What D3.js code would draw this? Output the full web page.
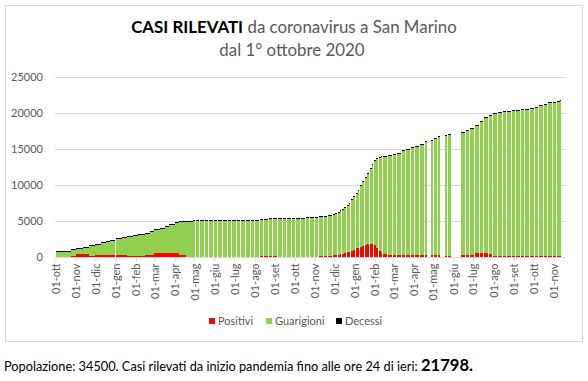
<!DOCTYPE html>
<html><head><meta charset="utf-8">
<script src="https://cdn.jsdelivr.net/npm/d3@7"></script>
<style>body{margin:0;background:#fff}svg{display:block;font-family:Lato,"Open Sans",sans-serif}</style>
</head><body><svg id="c" width="588" height="381"></svg>
<script>
// ---- DATA ----
const dataRilevazione = [
 '2020-10-01','2020-10-25','2020-11-02','2020-11-12','2020-11-21','2020-11-30','2020-12-09','2020-12-17','2020-12-24',
 '2021-01-02','2021-01-10','2021-01-18','2021-01-27','2021-02-04','2021-02-14','2021-02-22','2021-03-01','2021-03-09',
 '2021-03-17','2021-03-24','2021-04-01','2021-04-07','2021-04-19','2021-04-29',
 '2021-05-03','2021-05-10','2021-05-17','2021-05-24','2021-05-31','2021-06-07','2021-06-14','2021-06-21','2021-06-28',
 '2021-07-05','2021-07-12','2021-07-19','2021-07-26','2021-08-02','2021-08-09','2021-08-16','2021-08-23','2021-08-30',
 '2021-09-06','2021-09-13','2021-09-20','2021-09-27','2021-10-04','2021-10-11','2021-10-18','2021-10-25','2021-11-01',
 '2021-11-08','2021-11-15','2021-11-22','2021-11-29','2021-12-02','2021-12-06','2021-12-09','2021-12-13','2021-12-16',
 '2021-12-20','2021-12-23','2021-12-27','2021-12-30',
 '2022-01-03','2022-01-06','2022-01-10','2022-01-13','2022-01-17','2022-01-20','2022-01-24','2022-01-27','2022-01-31',
 '2022-02-03','2022-02-07','2022-02-10','2022-02-14','2022-02-21','2022-02-28','2022-03-07','2022-03-14','2022-03-21',
 '2022-03-28','2022-04-04','2022-04-11','2022-04-18','2022-04-28','2022-05-02','2022-05-09','2022-05-19','2022-05-23',
 '2022-06-13','2022-06-20','2022-06-27','2022-07-04','2022-07-11','2022-07-18','2022-07-25','2022-08-01','2022-08-08',
 '2022-08-15','2022-08-22','2022-08-29','2022-09-05','2022-09-12','2022-09-19','2022-09-26','2022-10-03','2022-10-10',
 '2022-10-17','2022-10-24','2022-10-31','2022-11-07','2022-11-11'
];
const casiTotali = [
 787,972,1157,1343,1528,1759,1944,2130,2315,
 2546,2731,2824,2963,3148,3333,3565,3796,4028,
 4306,4583,4815,4954,4980,5070,
 5080,5085,5088,5090,5093,5095,5095,5096,5097,
 5098,5100,5105,5110,5150,5231,5280,5320,5350,
 5370,5380,5390,5400,5410,5420,5509,5520,5530,
 5648,5700,5787,5972,6080,6250,6435,6650,6900,
 7150,7450,7950,8400,
 8843,9250,9900,10463,11000,11550,12270,12830,13400,
 13650,13843,13930,14030,14180,14306,14450,14790,14954,
 15200,15390,15620,16019,16250,16450,16720,16944,17037,
 17269,17546,17830,18300,18880,19398,19700,19980,20100,
 20185,20231,20310,20400,20460,20530,20640,20800,21030,
 21260,21440,21528,21600,21798
];
const positivi = [
 30,150,370,370,185,320,320,280,300,
 300,300,185,185,185,320,320,510,510,
 510,510,510,230,60,40,
 30,25,20,20,15,15,10,10,10,
 10,15,20,30,60,90,100,90,70,
 60,40,30,30,30,40,60,60,60,
 150,185,190,280,280,300,370,450,556,
 648,740,833,972,
 1204,1300,1389,1574,1667,1750,1830,1852,1600,
 1300,900,600,400,278,220,278,324,324,
 324,324,324,324,324,324,324,185,185,
 231,231,300,556,600,600,370,185,120,
 90,90,90,90,90,100,185,185,185,
 185,185,90,90,90
];
const decessi = [
 42,43,44,48,52,56,60,63,64,
 65,66,68,70,71,73,76,78,82,
 85,86,88,89,90,90,
 90,90,90,90,90,90,90,90,90,
 90,90,90,90,90,90,90,90,90,
 90,90,90,90,90,90,90,90,90,
 90,90,90,91,91,92,92,93,93,
 94,95,96,97,
 98,99,100,101,102,103,104,105,106,
 107,108,108,109,110,110,111,111,112,
 112,113,113,114,114,114,115,115,115,
 116,116,116,117,117,118,118,118,119,
 119,119,119,119,120,120,120,120,120,
 120,121,121,121,121
];
// days with no data (first day of each white gap)
const giorniSenzaDati = [
 '2021-01-01',
 '2021-05-02','2021-05-09','2021-05-16','2021-05-23','2021-05-30','2021-06-06','2021-06-13','2021-06-20','2021-06-27',
 '2021-07-04','2021-07-11','2021-07-18','2021-07-25','2021-08-01','2021-08-08','2021-08-15','2021-08-22','2021-08-29',
 '2021-09-05','2021-09-12','2021-09-19','2021-09-26','2021-10-03','2021-10-10','2021-10-17','2021-10-24','2021-10-31',
 '2021-11-07','2021-11-14','2021-11-21','2021-11-28','2021-12-05','2021-12-12','2021-12-19','2021-12-26',
 '2022-01-02','2022-01-09','2022-01-16','2022-01-23','2022-01-30','2022-02-06','2022-02-13','2022-02-20','2022-02-27',
 '2022-03-06','2022-03-13','2022-03-20','2022-03-27','2022-04-03','2022-04-10','2022-04-17','2022-04-21','2022-05-01',
 '2022-05-08','2022-05-12','2022-05-22','2022-05-29','2022-06-19','2022-06-26','2022-07-03','2022-07-10','2022-07-17',
 '2022-07-24','2022-07-31','2022-08-07','2022-08-14','2022-08-21','2022-08-28','2022-09-04','2022-09-11','2022-09-18',
 '2022-09-25','2022-10-02','2022-10-09','2022-10-16','2022-10-23','2022-10-30','2022-11-06'
];
const fineDati = '2022-11-12';
const inizioAsse = '2020-10-01', fineAsse = '2022-11-20';
const mesi = ['gen','feb','mar','apr','mag','giu','lug','ago','set','ott','nov','dic'];
const yTicks = [0,5000,10000,15000,20000,25000];
const serie = ['Positivi','Guarigioni','Decessi'];
const colori = ['#ff0000','#92d050','#000000'];
const titoloBold = 'CASI RILEVATI', titoloResto = ' da coronavirus a San Marino', titolo2 = 'dal 1° ottobre 2020';
const popolazione = 34500;
const casiDaInizio = 21798;

// ---- CHART ----
const svg = d3.select('#c');
const parse = d3.utcParse('%Y-%m-%d');
const plot = {l: 55, r: 566, t: 76.8, b: 257};

svg.append('rect').attr('x',5.5).attr('y',5.5).attr('width',577).attr('height',336)
  .attr('fill','#fff').attr('stroke','#d9d9d9').attr('stroke-width',1);

const x = d3.scaleUtc().domain([parse(inizioAsse), parse(fineAsse)]).range([plot.l + 0.5, plot.r]);
const y = d3.scaleLinear().domain([0, 25000]).range([plot.b, plot.t]);

svg.append('g').selectAll('line').data(yTicks).join('line')
  .attr('x1', plot.l).attr('x2', plot.r)
  .attr('y1', d => Math.round(y(d)) + 0.5).attr('y2', d => Math.round(y(d)) + 0.5)
  .attr('stroke', '#d9d9d9').attr('stroke-width', 1);

svg.append('g').selectAll('text').data(yTicks).join('text')
  .attr('x', 43).attr('y', d => y(d) + 4)
  .attr('text-anchor','end').attr('font-size', 11).attr('fill','#595959')
  .text(d => d);

const gaps = giorniSenzaDati.map(parse);
const records = dataRilevazione.map((d, i) => {
  const start = parse(d);
  const next = i + 1 < dataRilevazione.length ? parse(dataRilevazione[i+1]) : parse(fineDati);
  const g = gaps.find(g => g > start && g < next);
  const end = g || next;
  return {start, end, next, cut: !!g,
    positivi: positivi[i], guarigioni: casiTotali[i] - positivi[i] - decessi[i], decessi: decessi[i]};
});
const stacked = d3.stack().keys(['positivi','guarigioni','decessi'])(records);

records.forEach(r => {
  r.px0 = Math.round(x(r.start));
  r.px1 = Math.round(x(r.end));
  if (r.cut && Math.round(x(r.next)) - r.px1 < 1) r.px1 -= 1;
  if (r.px1 <= r.px0) r.px1 = r.px0 + 1;
});

const gBars = svg.append('g').attr('shape-rendering','crispEdges');
function yy(d, k) {
  let y1 = Math.round(y(d[1])), y0 = Math.round(y(d[0]));
  if (k === 2 && y0 - y1 < 1) y1 = y0 - 1;
  return [y1, Math.max(0, y0 - y1)];
}
stacked.forEach((layer, k) => {
  gBars.append('g').attr('fill', colori[k]).selectAll('rect').data(layer).join('rect')
    .attr('x', (d, i) => records[i].px0)
    .attr('width', (d, i) => records[i].px1 - records[i].px0)
    .attr('y', d => yy(d, k)[0])
    .attr('height', d => yy(d, k)[1]);
});

const xAxis = d3.axisBottom(x).ticks(d3.utcMonth.every(1))
  .tickFormat(d => '01-' + mesi[d.getUTCMonth()]).tickSize(4).tickSizeOuter(0);
const gx = svg.append('g').attr('transform', `translate(0,${plot.b + 0.5})`).call(xAxis);
gx.select('.domain').attr('stroke','#d9d9d9').attr('d', `M${plot.l},0H${plot.r}`);
gx.selectAll('.tick line').attr('stroke','#d9d9d9');
gx.selectAll('.tick text')
  .attr('transform','rotate(-90)').attr('text-anchor','end')
  .attr('x', -6).attr('y', 0).attr('dy','0.35em')
  .attr('font-size', 11).attr('fill','#595959').attr('font-family','Lato,"Open Sans",sans-serif');

const t1 = svg.append('text').attr('x', 294).attr('y', 33).attr('text-anchor','middle')
  .attr('font-size', 16).attr('fill','#595959');
t1.append('tspan').attr('font-weight','bold').attr('fill','#000').text(titoloBold);
t1.append('tspan').text(titoloResto);
const w1 = t1.node().getComputedTextLength();
t1.attr('font-size', 16 * 326 / w1);
svg.append('text').attr('x', 292).attr('y', 56).attr('text-anchor','middle')
  .attr('font-size', 16 * 326 / w1).attr('fill','#595959').text(titolo2);

const legX = [209, 266, 336];
serie.forEach((s, i) => {
  svg.append('rect').attr('x', legX[i]).attr('y', 318).attr('width', 6).attr('height', 6).attr('fill', colori[i]);
  svg.append('text').attr('x', legX[i] + 9).attr('y', 325).attr('font-size', 11).attr('fill','#595959').text(s);
});

const f = svg.append('text').attr('x', 4).attr('y', 371).attr('font-size', 13).attr('fill','#000');
const fReg = f.append('tspan').text(`Popolazione: ${popolazione}. Casi rilevati da inizio pandemia fino alle ore 24 di ieri: `);
const wReg = fReg.node().getComputedTextLength();
const fs = 13 * 414 / wReg;
f.attr('font-size', fs);
f.append('tspan').attr('font-weight','bold').attr('font-size', fs * 1.3).text(casiDaInizio + '.');
</script></body></html>
